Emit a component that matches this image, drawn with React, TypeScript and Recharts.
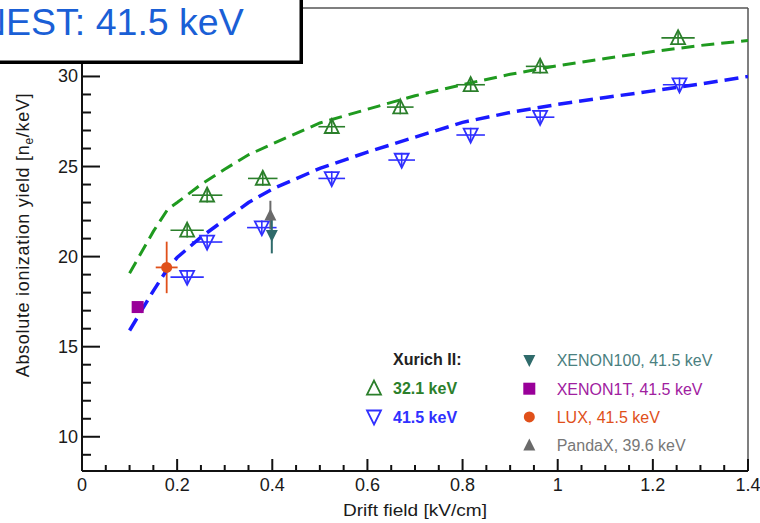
import React from "react"
import { ComposedChart, ErrorBar, Line, ReferenceLine, Scatter, XAxis, YAxis } from "recharts"

// NEST curves (dashed)
const nestField = [0.1, 0.15, 0.18, 0.2, 0.25, 0.3, 0.35, 0.4, 0.5, 0.6, 0.7, 0.8, 0.9, 1.0, 1.1, 1.2, 1.3, 1.4]
const nest32 = [19.08, 21.4, 22.62, 23.0, 24.0, 24.85, 25.65, 26.25, 27.42, 28.18, 28.93, 29.55, 30.12, 30.6, 31.0, 31.38, 31.72, 32.0]
const nest41 = [15.9, 18.1, 19.33, 19.95, 21.08, 22.05, 23.0, 23.75, 24.9, 25.8, 26.63, 27.45, 28.0, 28.45, 28.83, 29.2, 29.58, 30.0]

// Xurich II measurements
const xurich32Field = [0.221, 0.263, 0.38, 0.525, 0.669, 0.817, 0.963, 1.253]
const xurich32Yield = [21.46, 23.41, 24.34, 27.21, 28.3, 29.54, 30.56, 32.14]
const xurich41Field = [0.221, 0.263, 0.378, 0.525, 0.672, 0.817, 0.963, 1.256]
const xurich41Yield = [18.86, 20.81, 21.61, 24.34, 25.36, 26.75, 27.74, 29.54]
const xurichFieldErr = [0.035, 0.032, 0.031, 0.028, 0.028, 0.03, 0.03, 0.035]
const xurichYieldErr = [0.4, 0.4, 0.4, 0.4, 0.4, 0.4, 0.4, 0.4]

// other experiments
const xenon100 = { field: 0.399, yield: 21.18, err: 1.0 }
const xenon1t = { field: 0.117, yield: 17.2, err: 0 }
const lux = { field: 0.178, yield: 19.4, fieldErr: 0.023, err: 1.43 }
const pandax = { field: 0.396, yield: 22.3, err: 0.8 }

const X_TICKS = [0, 0.05, 0.1, 0.15, 0.2, 0.25, 0.3, 0.35, 0.4, 0.45, 0.5, 0.55, 0.6, 0.65, 0.7, 0.75, 0.8, 0.85, 0.9, 0.95, 1, 1.05, 1.1, 1.15, 1.2, 1.25, 1.3, 1.35, 1.4]
const X_LABELS = ["0", "0.2", "0.4", "0.6", "0.8", "1", "1.2", "1.4"]
const Y_TICKS = [9, 10, 11, 12, 13, 14, 15, 16, 17, 18, 19, 20, 21, 22, 23, 24, 25, 26, 27, 28, 29, 30, 31, 32, 33]
const Y_LABELS = ["10", "15", "20", "25", "30"]
const X_DOMAIN = [0, 1.4]
const Y_DOMAIN = [8.1, 33.8]

const GREEN = "#2b7f2b"
const GREEN_LINE = "#1f9a1f"
const BLUE = "#3030ff"
const BLUE_LINE = "#1a1aff"
const TEAL = "#2f6b6b"
const PURPLE = "#990099"
const ORANGE = "#e0501a"
const GRAY = "#6a6a6a"
const FONT = "'Liberation Sans', Arial, Helvetica, sans-serif"

const pts = (xs: number[], ys: number[]) => xs.map((x, i) => ({ x, y: ys[i] }))

const nest32Data = pts(nestField, nest32)
const nest41Data = pts(nestField, nest41)
const xurich32Data = xurich32Field.map((x, i) => ({ x, y: xurich32Yield[i], ex: xurichFieldErr[i], ey: xurichYieldErr[i] }))
const xurich41Data = xurich41Field.map((x, i) => ({ x, y: xurich41Yield[i], ex: xurichFieldErr[i], ey: xurichYieldErr[i] }))
const xenon100Data = [{ x: xenon100.field, y: xenon100.yield, ey: xenon100.err }]
const xenon1tData = [{ x: xenon1t.field, y: xenon1t.yield }]
const luxData = [{ x: lux.field, y: lux.yield, ex: lux.fieldErr, ey: lux.err }]
const pandaxData = [{ x: pandax.field, y: pandax.yield, ey: pandax.err }]

const upTri = (cx: number, cy: number, s: number) =>
	`M${cx},${cy - s * 0.55} L${cx + s / 2},${cy + s * 0.45} L${cx - s / 2},${cy + s * 0.45} Z`
const downTri = (cx: number, cy: number, s: number) =>
	`M${cx},${cy + s * 0.55} L${cx + s / 2},${cy - s * 0.45} L${cx - s / 2},${cy - s * 0.45} Z`

const OpenUp = ({ cx, cy }: any) => <path d={upTri(cx, cy, 14)} fill="none" stroke={GREEN} strokeWidth={1.8} />
const OpenDown = ({ cx, cy }: any) => <path d={downTri(cx, cy, 14)} fill="none" stroke={BLUE} strokeWidth={1.8} />
const SolidDown = ({ cx, cy }: any) => <path d={downTri(cx, cy, 12)} fill={TEAL} />
const SolidUp = ({ cx, cy }: any) => <path d={upTri(cx, cy, 12)} fill={GRAY} />
const Square = ({ cx, cy }: any) => <rect x={cx - 6} y={cy - 6} width={12} height={12} fill={PURPLE} />
const Dot = ({ cx, cy }: any) => <circle cx={cx} cy={cy} r={5.5} fill={ORANGE} />

const XTick = ({ x, y, payload }: any) => {
	const label = X_LABELS.find(l => Math.abs(Number(l) - payload.value) < 1e-6)
	return (
		<g>
			<line x1={x} x2={x} y1={y} y2={y - (label ? 12 : 6)} stroke="#111" strokeWidth={2} />
			{label && (
				<text x={x} y={y + 20} textAnchor="middle" fontSize={18} fill="#1a1a1a" fontFamily={FONT}>
					{label}
				</text>
			)}
		</g>
	)
}

const YTick = ({ x, y, payload }: any) => {
	const label = Y_LABELS.find(l => Number(l) === payload.value)
	return (
		<g>
			<line x1={x} x2={x + (label ? 18 : 9)} y1={y} y2={y} stroke="#111" strokeWidth={2} />
			{label && (
				<text x={x - 4} y={y + 6} textAnchor="end" fontSize={18} fill="#1a1a1a" fontFamily={FONT}>
					{label}
				</text>
			)}
		</g>
	)
}

const xurichLegend = [
	{ label: "32.1 keV", color: GREEN, Marker: OpenUp },
	{ label: "41.5 keV", color: BLUE, Marker: OpenDown }
]
const otherLegend = [
	{ label: "XENON100, 41.5 keV", color: "#4a8080", Marker: SolidDown },
	{ label: "XENON1T, 41.5 keV", color: "#a020a0", Marker: Square },
	{ label: "LUX, 41.5 keV", color: "#e0501a", Marker: Dot },
	{ label: "PandaX, 39.6 keV", color: "#777777", Marker: SolidUp }
]

export default function App() {
	return (
		<div style={{ position: "absolute", left: 0, top: 0, width: 760, height: 523, overflow: "hidden", background: "#fff" }}>
			<ComposedChart width={760} height={523} margin={{ top: 8, right: 12, bottom: 0, left: 0 }}>
				<XAxis
					dataKey="x"
					type="number"
					domain={X_DOMAIN}
					ticks={X_TICKS}
					interval={0}
					allowDataOverflow
					height={52}
					tickSize={0}
					tickMargin={0}
					tickLine={false}
					tick={<XTick />}
					axisLine={{ stroke: "#111", strokeWidth: 2 }}
				/>
				<YAxis
					dataKey="y"
					type="number"
					domain={Y_DOMAIN}
					ticks={Y_TICKS}
					interval={0}
					allowDataOverflow
					width={82}
					tickSize={0}
					tickMargin={0}
					tickLine={false}
					tick={<YTick />}
					axisLine={{ stroke: "#111", strokeWidth: 2 }}
				/>
				<ReferenceLine y={Y_DOMAIN[1]} stroke="#555" strokeWidth={1.5} />
				<ReferenceLine x={X_DOMAIN[1]} stroke="#555" strokeWidth={1.5} />

				<Scatter data={xurich32Data} dataKey="y" shape={<OpenUp />} isAnimationActive={false}>
					<ErrorBar dataKey="ex" direction="x" width={0} stroke={GREEN} strokeWidth={1.6} />
					<ErrorBar dataKey="ey" direction="y" width={0} stroke={GREEN} strokeWidth={1.6} />
				</Scatter>
				<Scatter data={xurich41Data} dataKey="y" shape={<OpenDown />} isAnimationActive={false}>
					<ErrorBar dataKey="ex" direction="x" width={0} stroke={BLUE} strokeWidth={1.6} />
					<ErrorBar dataKey="ey" direction="y" width={0} stroke={BLUE} strokeWidth={1.6} />
				</Scatter>
				<Scatter data={xenon1tData} dataKey="y" shape={<Square />} isAnimationActive={false} />
				<Scatter data={luxData} dataKey="y" shape={<Dot />} isAnimationActive={false}>
					<ErrorBar dataKey="ex" direction="x" width={0} stroke={ORANGE} strokeWidth={1.8} />
					<ErrorBar dataKey="ey" direction="y" width={0} stroke={ORANGE} strokeWidth={1.8} />
				</Scatter>
				<Scatter data={pandaxData} dataKey="y" shape={<SolidUp />} isAnimationActive={false}>
					<ErrorBar dataKey="ey" direction="y" width={0} stroke={GRAY} strokeWidth={2} />
				</Scatter>
				<Scatter data={xenon100Data} dataKey="y" shape={<SolidDown />} isAnimationActive={false}>
					<ErrorBar dataKey="ey" direction="y" width={0} stroke={TEAL} strokeWidth={2} />
				</Scatter>

				<Line
					data={nest32Data}
					dataKey="y"
					type="linear"
					stroke={GREEN_LINE}
					strokeWidth={3}
					strokeDasharray="13 7"
					dot={false}
					activeDot={false}
					isAnimationActive={false}
				/>
				<Line
					data={nest41Data}
					dataKey="y"
					type="linear"
					stroke={BLUE_LINE}
					strokeWidth={3.5}
					strokeDasharray="14 7"
					dot={false}
					activeDot={false}
					isAnimationActive={false}
				/>
			</ComposedChart>

			<svg width={760} height={523} style={{ position: "absolute", left: 0, top: 0, pointerEvents: "none" }} fontFamily={FONT}>
				<rect x={-20} y={-20} width={321.25} height={82.25} fill="#fff" stroke="#000" strokeWidth={3.5} />
				<text x={-21} y={35} fontSize={37.5} fill="#1a5fd6">NEST: 41.5 keV</text>

				<text x={343} y={516} fontSize={17} fill="#1a1a1a" textLength={144} lengthAdjust="spacingAndGlyphs">
					Drift field [kV/cm]
				</text>
				<text
					transform="translate(28.5,235) rotate(-90)"
					textAnchor="middle"
					fontSize={18}
					letterSpacing={0.7}
					fill="#1a1a1a"
				>
					Absolute ionization yield [n
					<tspan fontSize={12} dy={4}>e</tspan>
					<tspan dy={-4}>/keV]</tspan>
				</text>

				<text x={393} y={365} fontSize={16} fontWeight="bold" fill="#222">Xurich II:</text>
				{xurichLegend.map((e, i) => (
					<g key={e.label}>
						<e.Marker cx={374} cy={388.3 + i * 28.5} />
						<text x={393} y={394 + i * 28.5} fontSize={16} fontWeight="bold" fill={e.color}>{e.label}</text>
					</g>
				))}
				{otherLegend.map((e, i) => (
					<g key={e.label}>
						<e.Marker cx={529.3} cy={360.5 + i * 28.2} />
						<text x={556.7} y={366.3 + i * 28.2} fontSize={16} fill={e.color}>{e.label}</text>
					</g>
				))}
			</svg>
		</div>
	)
}
